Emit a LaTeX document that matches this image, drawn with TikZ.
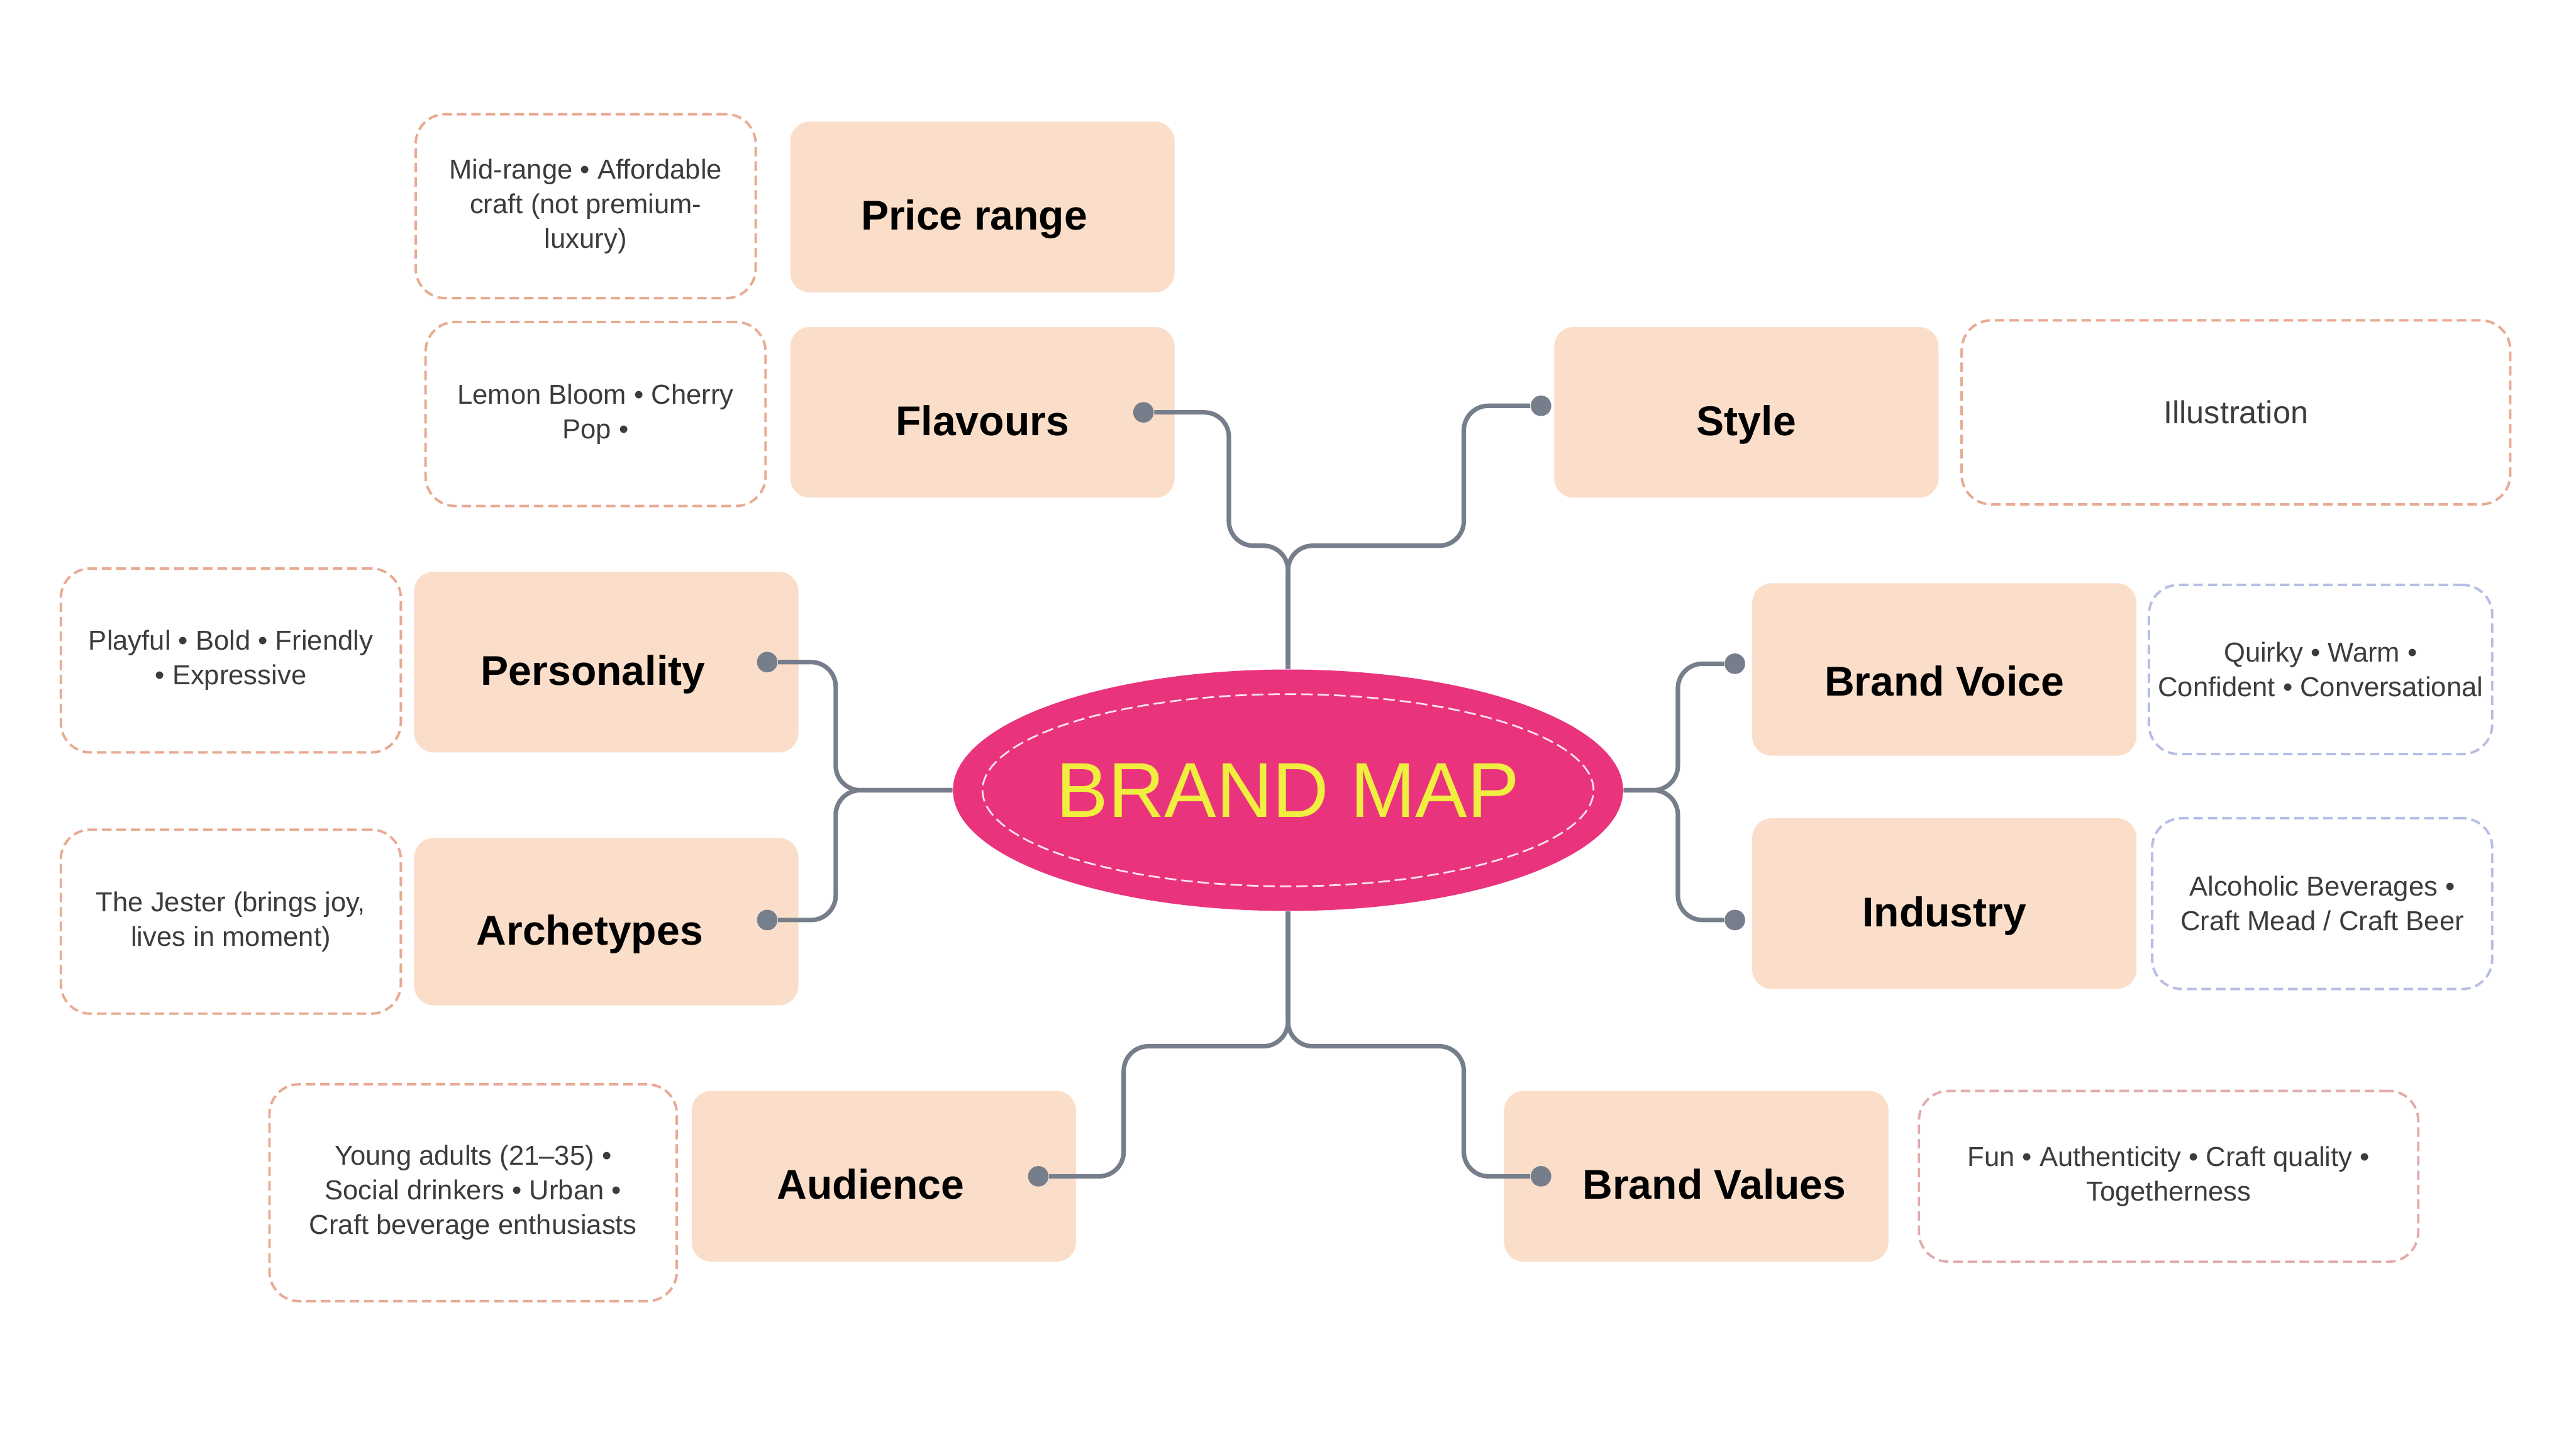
\documentclass[tikz,border=0pt]{standalone}
\usepackage{fontspec}
\setmainfont{Liberation Sans}
\definecolor{PeachFill}{RGB}{251,222,201}
\definecolor{LinkGray}{RGB}{118,126,140}
\definecolor{MapPink}{RGB}{233,52,125}
\definecolor{MapYellow}{RGB}{240,238,62}
\definecolor{NoteSalmon}{RGB}{232,170,146}
\definecolor{NoteLilac}{RGB}{182,190,228}
\definecolor{NoteRose}{RGB}{226,172,172}
\definecolor{NoteText}{RGB}{60,60,60}
\usepackage{tikz}
\usetikzlibrary{shapes.geometric, positioning, calc}

\begin{document}
\begin{tikzpicture}[x=0.02cm, y=-0.02cm,
  topic/.style={rectangle, rounded corners=0.24cm, fill=PeachFill, inner sep=0pt,
    minimum width=4.68cm, minimum height=2.08cm, text height=0.56cm, text depth=0pt,
    font=\fontsize{14.4}{17}\selectfont\bfseries},
  note/.style={rectangle, rounded corners=0.36cm, draw=NoteSalmon, fill=white,
    line width=0.85pt, dash pattern=on 3.3pt off 1.7pt, inner sep=0pt,
    minimum width=4.14cm, minimum height=2.24cm, align=center, text=NoteText,
    font=\fontsize{9.5}{12}\selectfont},
  knob/.style={circle, fill=LinkGray, inner sep=0pt, minimum size=0.25cm},
  link/.style={draw=LinkGray, line width=1.55pt, rounded corners=0.3cm}]

  \path[fill=white, use as bounding box] (0,0) rectangle (1568,882);

  \node[ellipse, fill=MapPink, minimum width=8.16cm, minimum height=2.94cm,
        inner sep=0pt, text=MapYellow, font=\fontsize{27}{30}\selectfont]
    (map) at (784,481) {BRAND MAP};
  \node[ellipse, draw=white!85!MapPink, line width=0.6pt,
        dash pattern=on 4pt off 1.7pt, minimum width=7.44cm, minimum height=2.34cm]
    (ring) at (map.center) {};

  \node[topic] (pri) at (598,126) {Price range\hspace*{0.2cm}};
  \node[topic] (fla) at (598,251) {Flavours};
  \node[topic] (sty) at (1063,251) {Style};
  \node[topic, minimum height=2.2cm] (per) at (369,403) {Personality\hspace*{0.32cm}};
  \node[topic, minimum height=2.04cm] (arc) at (369,561) {Archetypes\hspace*{0.4cm}};
  \node[topic, minimum height=2.1cm, text height=0.64cm] (voi) at (1183.5,407.5) {Brand Voice};
  \node[topic] (ind) at (1183.5,550) {Industry};
  \node[topic] (aud) at (538,716) {Audience\hspace*{0.32cm}};
  \node[topic] (val) at (1032.5,716) {\hspace*{0.44cm}Brand Values};

  \node[note] (priN) at (356.5,125.5) {Mid-range • Affordable\\craft (not premium-\\luxury)};
  \node[note] (flaN) at (362.5,252) {Lemon Bloom • Cherry\\Pop •};
  \node[note, minimum width=6.68cm, font=\fontsize{11}{13}\selectfont] (styN) at (1361,251) {Illustration};
  \node[note] (perN) at (140.5,402) {Playful • Bold • Friendly\\• Expressive};
  \node[note] (arcN) at (140.5,561) {The Jester (brings joy,\\lives in moment)};
  \node[note, draw=NoteLilac, minimum width=4.18cm, minimum height=2.06cm] (voiN) at (1412.5,407.5) {Quirky • Warm •\\Confident • Conversational};
  \node[note, draw=NoteLilac, minimum height=2.08cm] (indN) at (1413.5,550) {Alcoholic Beverages •\\Craft Mead / Craft Beer};
  \node[note, minimum width=4.96cm, minimum height=2.64cm] (audN) at (288,726) {Young adults (21–35) •\\Social drinkers • Urban •\\Craft beverage enthusiasts};
  \node[note, draw=NoteRose, minimum width=6.08cm, minimum height=2.08cm] (valN) at (1320,716) {Fun • Authenticity • Craft quality •\\Togetherness};

  \node[knob] (dFla) at (696,251) {};
  \node[knob] (dSty) at (938,247) {};
  \node[knob] (dPer) at (467,403) {};
  \node[knob] (dArc) at (467,560) {};
  \node[knob] (dVoi) at (1056,404) {};
  \node[knob] (dInd) at (1056,560) {};
  \node[knob] (dAud) at (632,716) {};
  \node[knob] (dVal) at (938,716) {};

  \draw[link] (map.north) |- ++(-36,-75) |- (dFla);
  \draw[link] (map.north) |- ++(107,-75) |- (dSty);
  \draw[link] (map.west) -- ++(-71,0) |- (dPer);
  \draw[link] (map.west) -- ++(-71,0) |- (dArc);
  \draw[link] (map.east) -- ++(33,0) |- (dVoi);
  \draw[link] (map.east) -- ++(33,0) |- (dInd);
  \draw[link] (map.south) |- ++(-100,82) |- (dAud);
  \draw[link] (map.south) |- ++(107,82) |- (dVal);
\end{tikzpicture}
\end{document}
